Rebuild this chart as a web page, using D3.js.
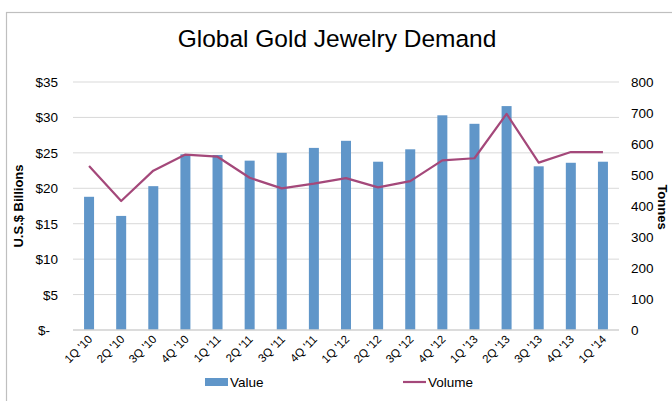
<!DOCTYPE html>
<html><head><meta charset="utf-8">
<script src="https://cdn.jsdelivr.net/npm/d3@7"></script>
<style>body{margin:0;background:#fff}svg{display:block;font-family:"Liberation Sans",Arial,sans-serif}</style>
</head><body><svg id="c" width="672" height="401"></svg>
<script>
const categories = ["1Q '10","2Q '10","3Q '10","4Q '10","1Q '11","2Q '11","3Q '11","4Q '11","1Q '12","2Q '12","3Q '12","4Q '12","1Q '13","2Q '13","3Q '13","4Q '13","1Q '14"];
const valueBillions = [18.8,16.1,20.3,24.8,24.7,23.9,25.0,25.7,26.7,23.75,25.5,30.3,29.1,31.6,23.1,23.6,23.75];
const volumeTonnes = [529,416,514,566,559,491,457,472,490,460,480,547,554,697,540,574,574];
const leftTicks = [0,5,10,15,20,25,30,35];
const rightTicks = [0,100,200,300,400,500,600,700,800];

const svg = d3.select("#c");
const L = 73, R = 619, T = 82, B = 330;
svg.append("rect").attr("x",6.5).attr("y",12.5).attr("width",700).attr("height",500)
  .attr("fill","none").attr("stroke","#bfbfbf").attr("stroke-width",1.2);

const x = d3.scaleBand().domain(categories).range([L,R]);
const yL = d3.scaleLinear().domain([0,35]).range([B,T]);
const yR = d3.scaleLinear().domain([0,800]).range([B,T]);

// gridlines
svg.append("g").selectAll("line").data(leftTicks.slice(1)).join("line")
  .attr("x1",L).attr("x2",R).attr("y1",d=>yL(d)).attr("y2",d=>yL(d))
  .attr("stroke","#d9d9d9").attr("stroke-width",1);

// bars
const bw = 10;
svg.append("g").selectAll("rect").data(valueBillions).join("rect")
  .attr("x",(d,i)=>x(categories[i])+x.bandwidth()/2-bw/2)
  .attr("width",bw)
  .attr("y",d=>yL(d)).attr("height",d=>B-yL(d))
  .attr("fill","#6096c9");

// baseline
svg.append("line").attr("x1",L).attr("x2",R).attr("y1",B).attr("y2",B)
  .attr("stroke","#d0d0d0").attr("stroke-width",1.3);

// line
const line = d3.line().x((d,i)=>x(categories[i])+x.bandwidth()/2).y(d=>yR(d));
svg.append("path").datum(volumeTonnes).attr("d",line)
  .attr("fill","none").attr("stroke","#a4487a").attr("stroke-width",2.2).attr("stroke-linejoin","round");

// left axis labels
const fmtL = d => d===0 ? "$-" : "$"+d;
svg.append("g").selectAll("text").data(leftTicks).join("text")
  .attr("x",d=> d===0 ? 50 : 58).attr("y",d=>yL(d)+5)
  .attr("text-anchor","end").attr("font-size",13.5).attr("fill","#000")
  .text(fmtL);

// right axis labels
svg.append("g").selectAll("text").data(rightTicks).join("text")
  .attr("x",631).attr("y",d=>yR(d)+5)
  .attr("text-anchor","start").attr("font-size",13.5).attr("fill","#000")
  .text(d=>d);

// x labels
svg.append("g").selectAll("text").data(categories).join("text")
  .attr("transform",d=>`translate(${x(d)+x.bandwidth()/2+4},${B+10}) rotate(-45)`)
  .attr("text-anchor","end").attr("font-size",11.5).attr("fill","#000")
  .text(d=>d);

// axis titles
svg.append("text").attr("transform","translate(23,206) rotate(-90)")
  .attr("text-anchor","middle").attr("font-size",13).attr("font-weight","bold").text("U.S.$ Billions");
svg.append("text").attr("transform","translate(658,207) rotate(90)")
  .attr("text-anchor","middle").attr("font-size",13).attr("font-weight","bold").text("Tonnes");

// title
svg.append("text").attr("x",337).attr("y",47).attr("text-anchor","middle")
  .attr("font-size",24.5).attr("fill","#000").text("Global Gold Jewelry Demand");

// legend
svg.append("rect").attr("x",205).attr("y",378).attr("width",23).attr("height",8).attr("fill","#6096c9");
svg.append("text").attr("x",230).attr("y",387).attr("font-size",13.5).text("Value");
svg.append("line").attr("x1",403).attr("x2",426).attr("y1",382).attr("y2",382)
  .attr("stroke","#a4487a").attr("stroke-width",2.2);
svg.append("text").attr("x",428).attr("y",387).attr("font-size",13.5).text("Volume");
</script></body></html>
